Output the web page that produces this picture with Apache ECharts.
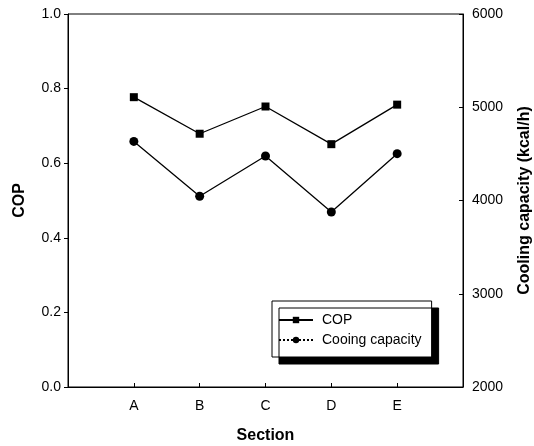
<!DOCTYPE html>
<html>
<head>
<meta charset="utf-8">
<script src="https://cdn.jsdelivr.net/npm/echarts@6/dist/echarts.min.js"></script>
<style>
  html, body { margin: 0; padding: 0; background: #fff; width: 534px; height: 446px; overflow: hidden; }
  #chart { width: 534px; height: 446px; }
</style>
</head>
<body>
<div id="chart"></div>
<script>
// sections along the x axis
const sections = ['A', 'B', 'C', 'D', 'E'];
// COP (left axis)
const copValues = [0.777, 0.679, 0.752, 0.651, 0.757];
// cooling capacity, kcal/h (right axis)
const capacityValues = [4634, 4045, 4477, 3877, 4502];

// blank slots at both ends so A..E sit inside the frame
const xCategories = [''].concat(sections, ['']);
const pad = v => [null].concat(v, [null]);

const font = 'Arial, "Liberation Sans", sans-serif';
const chart = echarts.init(document.getElementById('chart'));

const option = {
  animation: false,
  grid: {
    left: 68, right: 71, top: 14, bottom: 59,
    outerBoundsMode: 'none',
    containLabel: false,
    show: true, borderColor: '#000', borderWidth: 1
  },
  legend: {
    left: 272, top: 301,
    orient: 'vertical',
    itemWidth: 34, itemHeight: 8, itemGap: 6,
    padding: [12, 10, 10, 6],
    backgroundColor: '#fff',
    borderColor: '#000', borderWidth: 1,
    shadowColor: '#000', shadowBlur: 0, shadowOffsetX: 7, shadowOffsetY: 7,
    textStyle: { fontFamily: font, fontSize: 14, color: '#000', padding: [0, 0, 0, 4] },
    data: [
      { name: 'COP' },
      { name: 'Cooing capacity', lineStyle: { type: [2, 2] } }
    ]
  },
  xAxis: {
    type: 'category',
    data: xCategories,
    boundaryGap: false,
    name: 'Section',
    nameLocation: 'middle',
    nameGap: 41,
    nameTextStyle: { fontFamily: font, fontSize: 16, fontWeight: 'bold', color: '#000' },
    axisLine: { lineStyle: { color: '#000', width: 1 } },
    axisTick: {
      inside: true, length: 4,
      interval: (i, v) => v !== '',
      lineStyle: { color: '#000' }
    },
    axisLabel: {
      interval: 0, margin: 12,
      fontFamily: font, fontSize: 14, color: '#000'
    },
    splitLine: { show: false }
  },
  yAxis: [
    {
      type: 'value',
      min: 0, max: 1, interval: 0.2,
      name: 'COP',
      nameLocation: 'middle',
      nameGap: 40,
      nameTextStyle: { fontFamily: font, fontSize: 16, fontWeight: 'bold', color: '#000' },
      axisLine: { show: true, lineStyle: { color: '#000', width: 1 } },
      axisTick: { show: true, inside: false, length: 4, lineStyle: { color: '#000' } },
      axisLabel: {
        margin: 7,
        formatter: v => v.toFixed(1),
        fontFamily: font, fontSize: 14, color: '#000'
      },
      splitLine: { show: false }
    },
    {
      type: 'value',
      min: 2000, max: 6000, interval: 1000,
      position: 'right',
      name: 'Cooling capacity (kcal/h)',
      nameLocation: 'middle',
      nameGap: 54,
      nameTextStyle: { fontFamily: font, fontSize: 16, fontWeight: 'bold', color: '#000' },
      axisLine: { show: true, lineStyle: { color: '#000', width: 1 } },
      axisTick: { show: true, inside: true, length: 4, lineStyle: { color: '#000' } },
      axisLabel: {
        margin: 9,
        formatter: v => String(v),
        fontFamily: font, fontSize: 14, color: '#000'
      },
      splitLine: { show: false }
    }
  ],
  series: [
    {
      name: 'COP',
      type: 'line',
      yAxisIndex: 0,
      data: pad(copValues),
      symbol: 'rect',
      symbolSize: 8,
      color: '#000',
      lineStyle: { color: '#000', width: 1.3 },
      itemStyle: { color: '#000' }
    },
    {
      name: 'Cooing capacity',
      type: 'line',
      yAxisIndex: 1,
      data: pad(capacityValues),
      symbol: 'circle',
      symbolSize: 9,
      color: '#000',
      lineStyle: { color: '#000', width: 1.3 },
      itemStyle: { color: '#000' }
    }
  ]
};

chart.setOption(option);
</script>
</body>
</html>
